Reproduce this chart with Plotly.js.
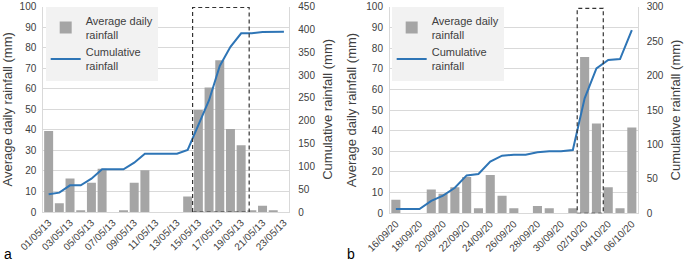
<!DOCTYPE html>
<html>
<head>
<meta charset="utf-8">
<script src="https://cdn.plot.ly/plotly-3.0.1.min.js"></script>
<style>html,body{margin:0;padding:0;background:#fff;}#chart{width:685px;height:265px;}</style>
</head>
<body>
<div id="chart"></div>
<script>
// Panel a: May 2013
const datesA = ['01/05/13','02/05/13','03/05/13','04/05/13','05/05/13','06/05/13','07/05/13','08/05/13','09/05/13','10/05/13','11/05/13','12/05/13','13/05/13','14/05/13','15/05/13','16/05/13','17/05/13','18/05/13','19/05/13','20/05/13','21/05/13','22/05/13','23/05/13'];
const dailyA = [39.5, 4.3, 16.3, 0.8, 14.3, 21.1, 0, 0.8, 14.3, 20.3, 0, 0, 0, 7.5, 49.7, 60.7, 73.9, 40.4, 32.5, 0.8, 3.1, 0.8, 0];
const cumA = [38.7, 42.4, 58.4, 58.4, 73, 93.5, 93.5, 93.5, 108, 127.8, 127.8, 127.8, 127.8, 135.9, 190, 245, 320, 362, 391.6, 391.6, 394.5, 395, 395];
const ticksA = ['01/05/13','03/05/13','05/05/13','07/05/13','09/05/13','11/05/13','13/05/13','15/05/13','17/05/13','19/05/13','21/05/13','23/05/13'];

// Panel b: Sep-Oct 2020
const datesB = ['16/09/20','17/09/20','18/09/20','19/09/20','20/09/20','21/09/20','22/09/20','23/09/20','24/09/20','25/09/20','26/09/20','27/09/20','28/09/20','29/09/20','30/09/20','01/10/20','02/10/20','03/10/20','04/10/20','05/10/20','06/10/20'];
const dailyB = [6.5, 0, 0, 11.5, 9.5, 12.6, 17.6, 2.4, 18.5, 8.5, 2.4, 0, 3.5, 2.4, 0, 2.4, 75.6, 43.5, 12.6, 2.4, 41.5];
const cumB = [6.3, 6.3, 6.3, 18, 25.6, 37, 55, 57, 75, 83.7, 85, 85, 88.5, 90, 90, 91.9, 167, 210.5, 222.6, 224, 266];
const ticksB = ['16/09/20','18/09/20','20/09/20','22/09/20','24/09/20','26/09/20','28/09/20','30/09/20','02/10/20','04/10/20','06/10/20'];

const barName = 'Average daily<br>rainfall';
const lineName = 'Cumulative<br>rainfall';
const barColor = '#a5a5a5';
const lineColor = '#2e75b6';
const textColor = '#404040';
const gridColor = '#d9d9d9';

const traces = [
  {type:'bar', x:datesA, y:dailyA, name:barName, xaxis:'x', yaxis:'y', marker:{color:barColor}, width:0.84, legend:'legend'},
  {type:'scatter', mode:'lines', x:datesA, y:cumA, name:lineName, xaxis:'x', yaxis:'y2', line:{color:lineColor, width:2}, legend:'legend'},
  {type:'bar', x:datesB, y:dailyB, name:barName, xaxis:'x2', yaxis:'y3', marker:{color:barColor}, width:0.77, legend:'legend2'},
  {type:'scatter', mode:'lines', x:datesB, y:cumB, name:lineName, xaxis:'x2', yaxis:'y4', line:{color:lineColor, width:2}, legend:'legend2'}
];

const fam = 'Liberation Sans, Arial, sans-serif';
const tickFont = {family:fam, size:10, color:textColor};
const titleFont = {family:fam, size:13, color:textColor};

function xAx(domain, anchor, cats, ticks) {
  return {domain:domain, anchor:anchor, type:'category', categoryorder:'array', categoryarray:cats,
    tickmode:'array', tickvals:ticks, ticktext:ticks, tickangle:-45, tickfont:tickFont,
    showgrid:false, showline:true, linecolor:gridColor, linewidth:1, ticks:'', zeroline:false,
    range:[-0.5, cats.length-0.5], fixedrange:true};
}
function yLeft(domain, anchor, titleText) {
  return {domain:domain, anchor:anchor, range:[0,100], dtick:10, tickfont:tickFont,
    showgrid:true, gridcolor:gridColor, gridwidth:1, showline:true, linecolor:gridColor, zeroline:false,
    ticks:'', ticklabelstandoff:4, title:{text:titleText, font:titleFont, standoff:6}};
}
function yRight(overlay, anchor, max, dtick, titleText) {
  return {overlaying:overlay, anchor:anchor, side:'right', range:[0,max], dtick:dtick, tickfont:tickFont,
    showgrid:false, showline:true, linecolor:gridColor, zeroline:false, ticks:'', ticklabelstandoff:6,
    title:{text:titleText, font:titleFont, standoff:8}};
}
function legendAt(x) {
  return {x:x, y:0.975, xanchor:'left', yanchor:'top', bgcolor:'#f2f2f2', borderwidth:0,
    font:{family:fam, size:11, color:textColor}, itemwidth:30, tracegroupgap:0, valign:'middle'};
}

const boxLine = {color:'#333333', width:1.2, dash:'4px,3px'};

const layout = {
  width:685, height:265,
  margin:{l:0, r:0, t:0, b:0},
  paper_bgcolor:'#ffffff', plot_bgcolor:'#ffffff',
  barmode:'overlay',
  showlegend:true,
  xaxis: xAx([0.0632, 0.4223], 'y', datesA, ticksA),
  yaxis: yLeft([0.2, 0.9747], 'x', 'Average daily rainfall (mm)'),
  yaxis2: yRight('y', 'x', 450, 50, 'Cumulative rainfall (mm)'),
  xaxis2: xAx([0.5693, 0.9310], 'y3', datesB, ticksB),
  yaxis3: yLeft([0.1951, 0.9747], 'x2', 'Average daily rainfall (mm)'),
  yaxis4: yRight('y3', 'x2', 300, 50, 'Cumulative rainfall (mm)'),
  legend: legendAt(0.0667),
  legend2: legendAt(0.5718),
  shapes: [
    {type:'rect', xref:'x', yref:'y', x0:13.46, x1:18.75, y0:0, y1:99.6, line:boxLine, fillcolor:'rgba(0,0,0,0)'},
    {type:'rect', xref:'x2', yref:'y3', x0:15.37, x1:17.58, y0:0, y1:99.2, line:boxLine, fillcolor:'rgba(0,0,0,0)'}
  ],
  annotations: [
    {text:'a', xref:'paper', yref:'paper', x:0.003, y:0.005, xanchor:'left', yanchor:'bottom', showarrow:false, font:{family:fam, size:14, color:'#000'}},
    {text:'b', xref:'paper', yref:'paper', x:0.503, y:0.005, xanchor:'left', yanchor:'bottom', showarrow:false, font:{family:fam, size:14, color:'#000'}}
  ]
};

Plotly.newPlot('chart', traces, layout, {displayModeBar:false, staticPlot:true});
</script>
</body>
</html>
